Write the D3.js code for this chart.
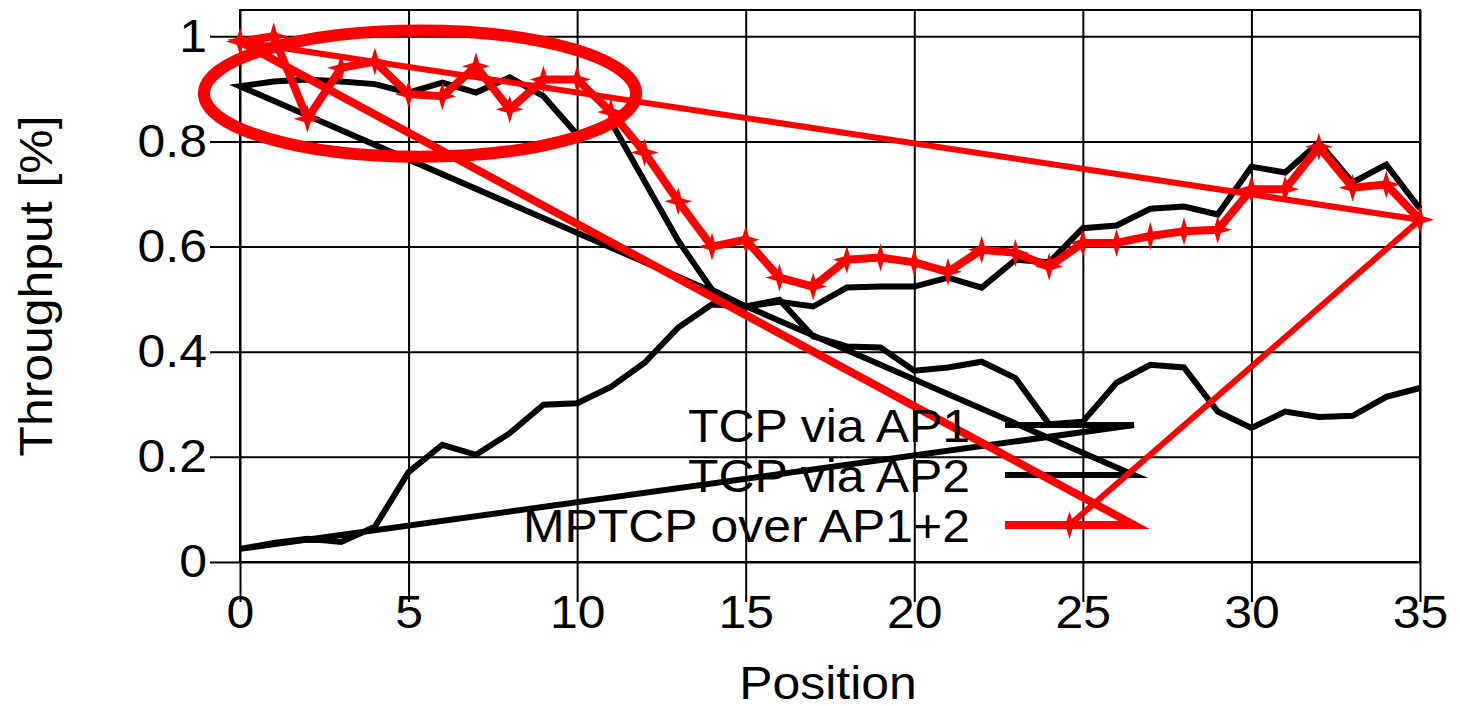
<!DOCTYPE html>
<html>
<head>
<meta charset="utf-8">
<script src="https://cdn.jsdelivr.net/npm/d3@7"></script>
<style>
  body { margin: 0; background: #fff; }
  svg { display: block; }
</style>
</head>
<body>
<div id="chart"></div>
<script>
// positions 0..35
const positions = d3.range(0, 36)

const tcpAp1 = [0.025, 0.036, 0.044, 0.038, 0.067, 0.171, 0.223, 0.204, 0.245, 0.299,
  0.302, 0.333, 0.379, 0.446, 0.49, 0.486, 0.495, 0.486, 0.522, 0.524,
  0.524, 0.541, 0.522, 0.575, 0.57, 0.635, 0.64, 0.672, 0.676, 0.661,
  0.752, 0.741, 0.798, 0.722, 0.756, 0.672]

const tcpAp2 = [0.905, 0.914, 0.918, 0.914, 0.909, 0.893, 0.912, 0.893, 0.922, 0.886,
  0.813, 0.838, 0.724, 0.611, 0.518, 0.486, 0.499, 0.429, 0.41, 0.408,
  0.364, 0.37, 0.381, 0.35, 0.262, 0.267, 0.341, 0.375, 0.37, 0.286,
  0.255, 0.286, 0.276, 0.278, 0.314, 0.331]

const mptcp = [0.99, 1.0, 0.843, 0.94, 0.952, 0.89, 0.886, 0.943, 0.861, 0.918,
  0.918, 0.856, 0.779, 0.686, 0.6, 0.613, 0.541, 0.524, 0.575, 0.579,
  0.57, 0.552, 0.594, 0.588, 0.562, 0.607, 0.607, 0.62, 0.629, 0.632,
  0.709, 0.709, 0.79, 0.712, 0.718, 0.651]

const seriesNames = ['TCP via AP1', 'TCP via AP2', 'MPTCP over AP1+2']
const seriesColors = ['#000', '#000', '#ff0000']

const xTickVals = [0, 5, 10, 15, 20, 25, 30, 35]
const yTickVals = [0, 0.2, 0.4, 0.6, 0.8, 1]
const yTickLabels = ['0', '0.2', '0.4', '0.6', '0.8', '1']

// the big red ring drawn around the first positions (data units)
const ring = { cx: 5.34, cy: 0.891, rx: 6.41, ry: 0.12 }

const width = 1460, height = 706
const margin = { top: 10, right: 40, bottom: 144, left: 240 }
const plotW = width - margin.left - margin.right
const plotH = height - margin.top - margin.bottom
const font = "'Liberation Sans', Arial, Helvetica, sans-serif"
const fontSize = 46
const stretch = 1.085   // the original lettering runs a bit wider than Liberation Sans

let x = d3.scaleLinear().domain([0, 35]).range([margin.left, width - margin.right])
let y = d3.scaleLinear().domain([0, 1.05]).range([height - margin.bottom, margin.top])

let svg = d3.select('#chart')
  .append('svg')
  .attr('width', width)
  .attr('height', height)

// widen a text around its anchor point
let widen = (sel) => {
  sel.each(function() {
    let t = d3.select(this)
    let tx = +t.attr('x') || 0, ty = +t.attr('y') || 0
    let rot = t.attr('data-rot') || 0
    t.attr('x', 0).attr('y', 0)
      .attr('transform', `translate(${tx}, ${ty}) rotate(${rot}) scale(${stretch}, 1)`)
  })
}

// y axis + horizontal grid
let yAxis = svg.append('g')
  .attr('transform', `translate(${margin.left}, 0)`)
  .call(d3.axisLeft(y)
    .tickValues(yTickVals)
    .tickFormat((d, i) => yTickLabels[i])
    .tickSize(30)
    .tickPadding(3))
  .attr('font-family', font)
  .attr('font-size', fontSize)
yAxis.select('.domain').remove()
yAxis.selectAll('.tick line')
  .attr('x1', -30).attr('x2', plotW)
  .attr('stroke', '#000').attr('stroke-width', 2)
yAxis.selectAll('.tick text').attr('fill', '#000').call(widen)

// x axis + vertical grid
let xAxis = svg.append('g')
  .attr('transform', `translate(0, ${height - margin.bottom})`)
  .call(d3.axisBottom(x)
    .tickValues(xTickVals)
    .tickSize(40))
  .attr('font-family', font)
  .attr('font-size', fontSize)
xAxis.select('.domain').remove()
xAxis.selectAll('.tick line')
  .attr('y1', -plotH).attr('y2', 40)
  .attr('stroke', '#000').attr('stroke-width', 2)
xAxis.selectAll('.tick text')
  .attr('y', 66).attr('dy', 0).attr('fill', '#000').call(widen)

// frame
svg.append('rect')
  .attr('x', margin.left).attr('y', margin.top)
  .attr('width', plotW).attr('height', plotH)
  .attr('fill', 'none').attr('stroke', '#000').attr('stroke-width', 2)

// axis titles
svg.append('text')
  .attr('x', x(17.5) - 2).attr('y', 699)
  .attr('text-anchor', 'middle')
  .attr('font-family', font).attr('font-size', fontSize)
  .text('Position')
  .call(widen)

svg.append('text')
  .attr('x', 52).attr('y', 286).attr('data-rot', -90)
  .attr('text-anchor', 'middle')
  .attr('font-family', font).attr('font-size', fontSize)
  .text('Throughput [%]')
  .call(widen)

// legend geometry (pixels)
const legX0 = 1005, legX1 = 1134, legTextX = 970
const legY = [425, 475, 525]

// each series path starts at its legend sample and jumps back to the first point
let seriesPath = (vals, i) => {
  let pts = [[legX0, legY[i]], [legX1, legY[i]]]
  vals.forEach((v, j) => pts.push([x(positions[j]), y(v)]))
  return d3.line()(pts)
}

let star = (cx, cy) => {
  let r0 = 14, r1 = 4.5
  let pts = d3.range(8).map(k => {
    let a = k * Math.PI / 4 - Math.PI / 2
    let r = k % 2 ? r1 : r0
    return [cx + r * Math.cos(a), cy + r * Math.sin(a)]
  })
  return d3.line().curve(d3.curveLinearClosed)(pts)
}

let lines = svg.append('g').attr('fill', 'none')
  .attr('stroke-linejoin', 'miter').attr('stroke-miterlimit', 10)

lines.append('path').attr('d', seriesPath(tcpAp1, 0))
  .attr('stroke', seriesColors[0]).attr('stroke-width', 6)
lines.append('path').attr('d', seriesPath(tcpAp2, 1))
  .attr('stroke', seriesColors[1]).attr('stroke-width', 6)

// red ring
svg.append('ellipse')
  .attr('cx', x(ring.cx)).attr('cy', y(ring.cy))
  .attr('rx', x(ring.rx) - x(0)).attr('ry', y(0) - y(ring.ry))
  .attr('fill', 'none').attr('stroke', seriesColors[2]).attr('stroke-width', 12)

let redLines = svg.append('g').attr('fill', 'none')
  .attr('stroke-linejoin', 'miter').attr('stroke-miterlimit', 10)

redLines.append('path').attr('d', seriesPath(mptcp, 2))
  .attr('stroke', seriesColors[2]).attr('stroke-width', 8)

// marker trail: first point -> last point -> legend marker
let last = mptcp.length - 1
redLines.append('path')
  .attr('d', d3.line()([
    [x(positions[0]), y(mptcp[0])],
    [x(positions[last]), y(mptcp[last])],
    [(legX0 + legX1) / 2, legY[2]]
  ]))
  .attr('stroke', seriesColors[2]).attr('stroke-width', 6)

svg.append('g').selectAll('path')
  .data(mptcp.map((v, j) => [x(positions[j]), y(v)]).concat([[(legX0 + legX1) / 2, legY[2]]]))
  .enter().append('path')
  .attr('d', d => star(d[0], d[1]))
  .attr('fill', seriesColors[2])

// legend labels
svg.append('g').selectAll('text')
  .data(seriesNames)
  .enter().append('text')
  .attr('x', legTextX)
  .attr('y', (d, i) => legY[i] + 17)
  .attr('text-anchor', 'end')
  .attr('font-family', font).attr('font-size', fontSize)
  .attr('fill', '#000')
  .text(d => d)
  .call(widen)
</script>
</body>
</html>
